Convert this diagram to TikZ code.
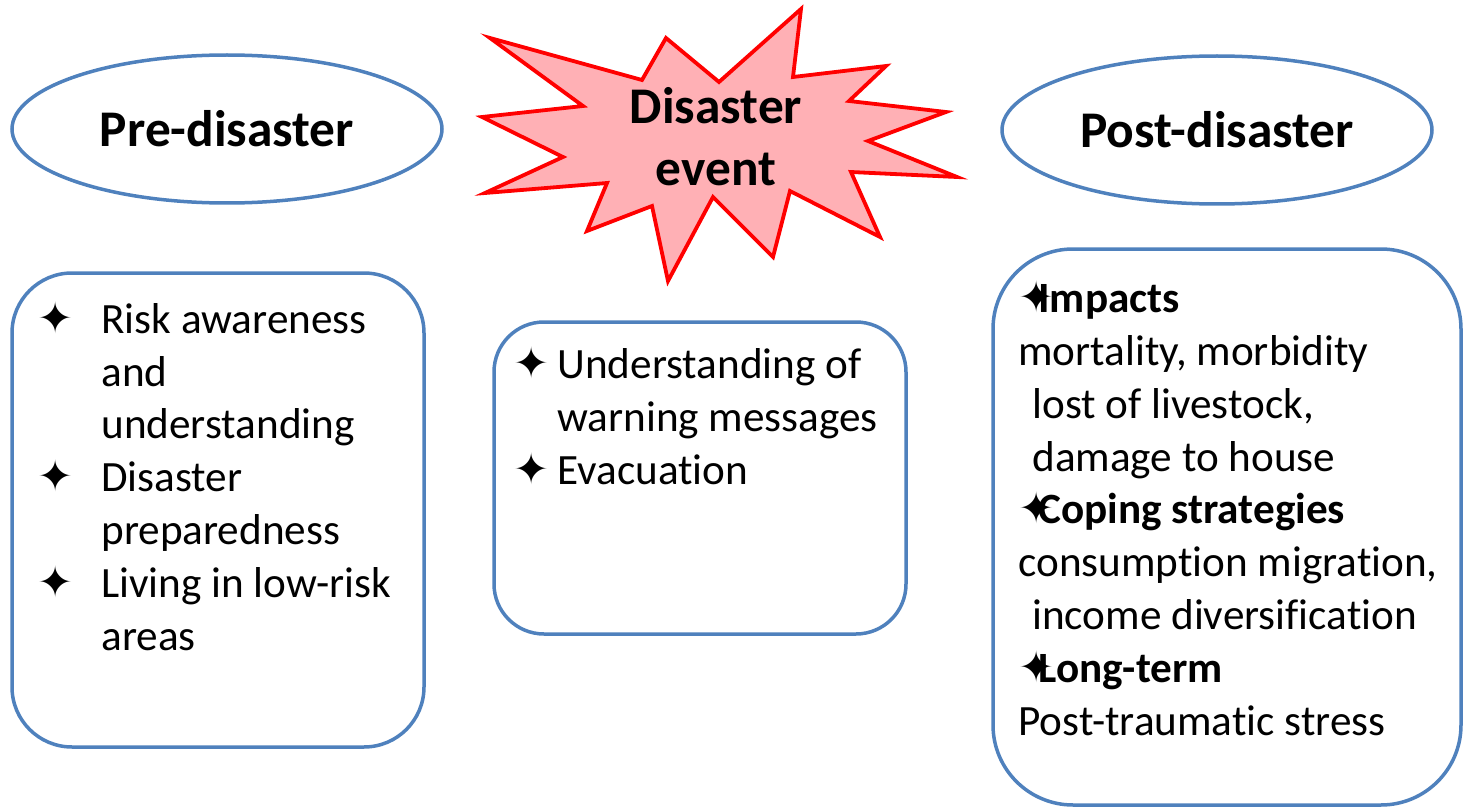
\documentclass[tikz,border=0pt]{standalone}
\usepackage{fontspec}
\setmainfont{Carlito}[Ligatures={NoCommon,NoRare}]
\newfontfamily\dejavu{DejaVu Sans}
\usetikzlibrary{positioning, shapes.geometric}
\definecolor{boxblue}{HTML}{4F81BD}
\definecolor{burstpink}{HTML}{FFB0B5}
\newcommand{\spark}{{\dejavu ✦}}
\newcommand{\bitem}[2]{\makebox[#1][l]{\spark}#2}

\tikzset{
  phase/.style={draw=boxblue, line width=1.75pt, ellipse, inner sep=0pt,
    minimum width=215pt, minimum height=74pt, font=\fontsize{25.7}{31}\selectfont\bfseries},
  listbox/.style={draw=boxblue, line width=1.75pt, rounded corners=#1},
  listtext/.style={align=left, inner sep=0pt, anchor=base west,
    font=\fontsize{21.6}{26.4}\selectfont},
}

\begin{document}
\begin{tikzpicture}[x=0.5pt, y=-0.5pt]
\useasboundingbox (0,0) rectangle (1463,808);
% the two phases
\node (pre) [phase] at (227,129) {Pre-disaster};
\node (post) [phase] at (1217,130) {Post-disaster};
% the burst
\draw [red, line width=1.9pt, fill=burstpink, line join=miter]
  (490,38) -- (642,80) -- (666,38) -- (719,82) -- (801,9) -- (793,77)
  -- (886,66) -- (849,101) -- (946,112) -- (868,141) -- (957,177)
  -- (851,172) -- (880,237) -- (790,191) -- (773,257) -- (713,197)
  -- (668,281) -- (652,206) -- (587,231) -- (607,183) -- (485,193)
  -- (563,157) -- (482,117) -- (583,106) -- cycle;
\node (event) [align=center, inner sep=0pt, anchor=base,
  font=\fontsize{25.7}{31}\selectfont\bfseries] at (716,185) {Disaster\\event};
% boxes
\node (prebox) [listbox=30pt, minimum width=206pt, minimum height=237pt] at (218,510) {};
\node (eventbox) [listbox=25pt, minimum width=206pt, minimum height=156pt] at (700,478) {};
\node (postbox) [listbox=40pt, minimum width=234pt, minimum height=278pt] at (1227,527) {};
% lists (base = last line)
\node (pretext) [listtext] at (37,650) {%
  \bitem{32pt}{Risk awareness}\\
  \hspace*{32pt}and\\
  \hspace*{32pt}understanding\\
  \bitem{32pt}{Disaster}\\
  \hspace*{32pt}preparedness\\
  \bitem{32pt}{Living in low-risk}\\
  \hspace*{32pt}areas};
\node (eventtext) [listtext] at (513,484) {%
  \bitem{22pt}{Understanding of}\\
  \hspace*{22pt}warning messages\\
  \bitem{22pt}{Evacuation}};
\node (posttext) [listtext] at (1018,735) {%
  \bitem{10pt}{\textbf{Impacts}}\\
  mortality, morbidity\\
  \hspace*{7pt}lost of livestock,\\
  \hspace*{7pt}damage to house\\
  \bitem{10pt}{\textbf{Coping strategies}}\\
  consumption migration,\\
  \hspace*{7pt}income diversification\\
  \bitem{10pt}{\textbf{Long-term}}\\
  Post-traumatic stress};
\end{tikzpicture}
\end{document}
